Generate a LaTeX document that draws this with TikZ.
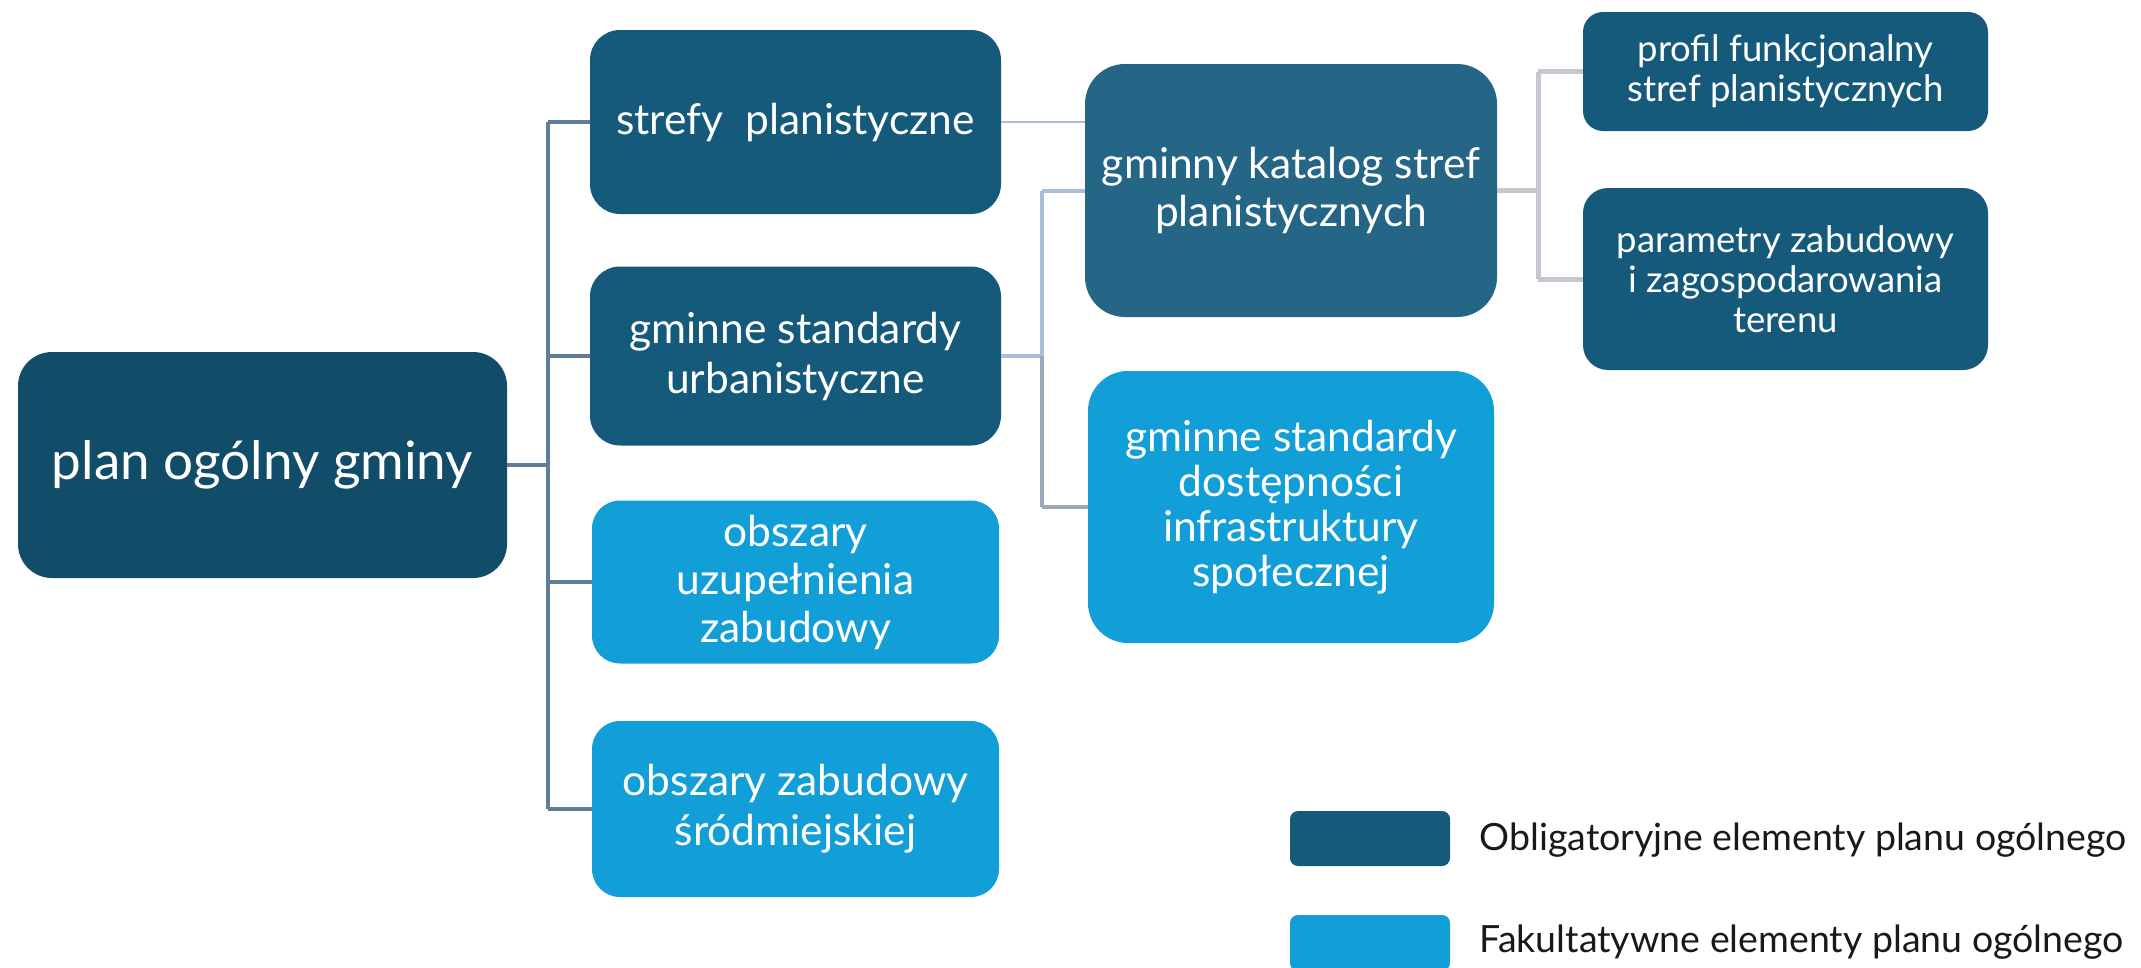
\documentclass[tikz,border=0pt]{standalone}
\usepackage{fontspec}
\setmainfont{Lato}
\usepackage{tikz}

\definecolor{rootcol}{HTML}{114C69}
\definecolor{oblcol}{HTML}{155A7B}
\definecolor{katcol}{HTML}{256585}
\definecolor{fakcol}{HTML}{129FD7}
\definecolor{leftline}{HTML}{5F7D99}
\definecolor{midline}{HTML}{A9BDDC}
\definecolor{lowline}{HTML}{9AAABB}
\definecolor{rightline}{HTML}{C3C8CE}

\begin{document}
\begin{tikzpicture}[x=1pt,y=-1pt,
    box/.style={rectangle,inner sep=0pt,text=white,align=center,
      font=\fontsize{42.5}{50}\selectfont},
    obl/.style={box,fill=oblcol},
    fak/.style={box,fill=fakcol},
    small/.style={font=\fontsize{36.5}{40}\selectfont},
    conn/.style={line width=4pt}]
    \useasboundingbox (0,0) rectangle (2141,967);

    \node[box,fill=rootcol,rounded corners=34pt,minimum width=489pt,minimum height=226pt,
      font=\fontsize{53}{60}\selectfont] (root) at (262.5,465) {plan ogólny gminy};

    \node[obl,rounded corners=30pt,minimum width=411pt,minimum height=184pt] (strefy) at (795.5,122) {strefy\ \ planistyczne};
    \node[obl,rounded corners=30pt,minimum width=411pt,minimum height=179pt] (urb) at (795.5,356) {gminne standardy\\urbanistyczne};
    \node[fak,rounded corners=28pt,minimum width=407pt,minimum height=163pt,
      font=\fontsize{42.5}{48}\selectfont] (uzup) at (795.5,582) {obszary\\uzupełnienia\\zabudowy};
    \node[fak,rounded corners=28pt,minimum width=407pt,minimum height=176pt] (srodm) at (795.5,809) {obszary zabudowy\\śródmiejskiej};

    \node[box,fill=katcol,rounded corners=40pt,minimum width=412pt,minimum height=253pt,
      font=\fontsize{42.5}{48}\selectfont] (katalog) at (1291,190.5) {gminny katalog stref\\planistycznych};
    \node[fak,rounded corners=40pt,minimum width=406pt,minimum height=272pt,
      font=\fontsize{42.5}{45}\selectfont] (dostep) at (1291,507) {gminne standardy\\dostępności\\infrastruktury\\społecznej};

    \node[obl,small,rounded corners=20pt,minimum width=405pt,minimum height=119pt] (profil) at (1785.5,71.5) {profil funkcjonalny\\stref planistycznych};
    \node[obl,small,rounded corners=25pt,minimum width=405pt,minimum height=182pt] (param) at (1785.5,279) {parametry zabudowy\\i zagospodarowania\\terenu};

    % connectors
    \coordinate (busA) at (548,0);
    \coordinate (busB) at (1042,0);
    \coordinate (busC) at (1538,0);
    \draw[conn,leftline] (root.east) -- (root.east -| busA);
    \draw[conn,leftline] (busA |- strefy) -- (busA |- srodm);
    \draw[conn,leftline] (busA |- strefy) -- (strefy.west);
    \draw[conn,leftline] (busA |- urb) -- (urb.west);
    \draw[conn,leftline] (busA |- uzup) -- (uzup.west);
    \draw[conn,leftline] (busA |- srodm) -- (srodm.west);

    \draw[line width=2.5pt,midline] (strefy.east) -- (strefy.east -| katalog.west);
    \draw[conn,midline] (urb.east) -- (urb.east -| busB);
    \draw[conn,midline] (busB |- katalog) -- (busB |- urb);
    \draw[conn,midline] (busB |- katalog) -- (katalog.west);
    \draw[conn,lowline] (busB |- urb) -- (busB |- dostep);
    \draw[conn,lowline] (busB |- dostep) -- (dostep.west);

    \draw[line width=5pt,rightline] (katalog.east) -- (katalog.east -| busC);
    \draw[line width=5pt,rightline] (busC |- profil) -- (busC |- param);
    \draw[line width=5pt,rightline] (busC |- profil) -- (profil.west);
    \draw[line width=5pt,rightline] (busC |- param) -- (param.west);

    % legend
    \node[fill=oblcol,rounded corners=8pt,minimum width=160pt,minimum height=55pt,inner sep=0pt] (legobl) at (1370,838.5) {};
    \node[fill=fakcol,rounded corners=8pt,minimum width=160pt,minimum height=56pt,inner sep=0pt] (legfak) at (1370,943) {};
    \node[anchor=west,font=\fontsize{37.5}{44}\selectfont,text=black!90] (txtobl) at (1476,840) {Obligatoryjne elementy planu ogólnego};
    \node[anchor=west,font=\fontsize{37.5}{44}\selectfont,text=black!90] (txtfak) at (1476,942) {Fakultatywne elementy planu ogólnego};
\end{tikzpicture}
\end{document}
